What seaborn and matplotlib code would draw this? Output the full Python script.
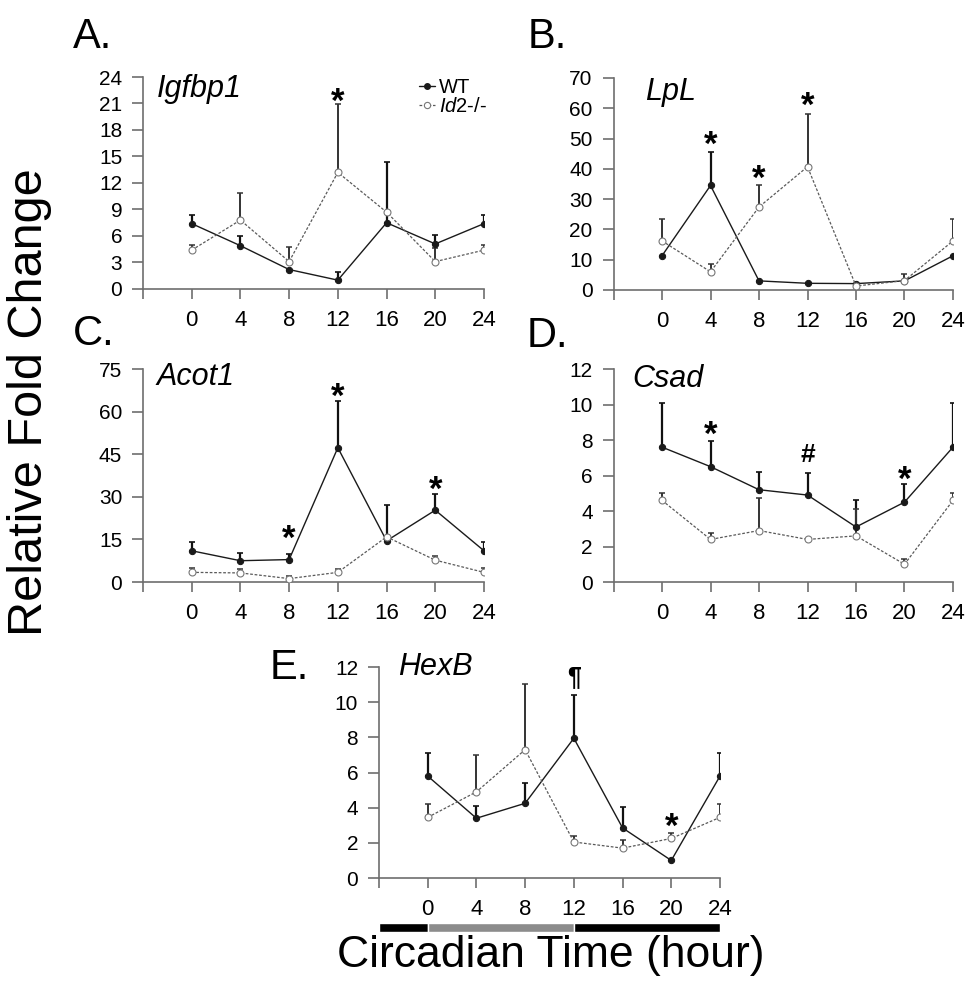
import numpy as np
import matplotlib
matplotlib.use("Agg")
import matplotlib.pyplot as plt
import seaborn as sns
from matplotlib.lines import Line2D
from matplotlib.textpath import TextPath
from matplotlib.font_manager import FontProperties

sns.set_style("ticks")
plt.rcParams['font.family'] = ['Liberation Sans', 'DejaVu Sans']
plt.rcParams['mathtext.fontset'] = 'custom'
plt.rcParams['mathtext.rm'] = 'Liberation Sans'
plt.rcParams['mathtext.it'] = 'Liberation Sans:italic'
plt.rcParams['text.color'] = 'black'
plt.rcParams['xtick.labelcolor'] = 'black'
plt.rcParams['ytick.labelcolor'] = 'black'

nan = np.nan

# circadian time points (hours)
times = [0, 4, 8, 12, 16, 20, 24]

# Igfbp1
igfbp1_wt = [7.4, 4.9, 2.2, 1.0, 7.5, 5.1, 7.4]
igfbp1_wt_se = [1.0, 1.1, nan, 0.9, 6.9, 1.0, 1.0]
igfbp1_ko = [4.4, 7.8, 3.1, 13.2, 8.7, 3.1, 4.4]
igfbp1_ko_se = [0.6, 3.1, 1.6, 7.7, nan, 1.5, 0.6]

# LpL
lpl_wt = [11.3, 34.5, 3.0, 2.2, 2.1, 3.0, 11.3]
lpl_wt_se = [nan, 11.1, nan, nan, nan, nan, nan]
lpl_ko = [16.2, 6.0, 27.4, 40.7, 1.3, 3.1, 16.2]
lpl_ko_se = [7.2, 2.6, 7.2, 17.3, nan, 2.1, 7.2]

# Acot1
acot1_wt = [11.0, 7.5, 7.9, 47.3, 14.5, 25.3, 11.0]
acot1_wt_se = [3.1, 2.7, 1.8, 16.5, 12.6, 5.6, 3.1]
acot1_ko = [3.4, 3.2, 1.2, 3.4, 15.9, 7.7, 3.4]
acot1_ko_se = [1.7, 1.4, 0.8, 1.2, nan, 1.4, 1.7]

# Csad
csad_wt = [7.6, 6.5, 5.2, 4.9, 3.1, 4.5, 7.6]
csad_wt_se = [2.5, 1.45, 1.0, 1.25, 1.5, 1.05, 2.5]
csad_ko = [4.6, 2.4, 2.9, 2.4, 2.6, 1.0, 4.6]
csad_ko_se = [0.4, 0.35, 1.85, nan, 1.5, 0.3, 0.4]

# HexB
hexb_wt = [5.8, 3.4, 4.25, 7.95, 2.85, 1.0, 5.8]
hexb_wt_se = [1.3, 0.7, 1.15, 2.45, 1.2, nan, 1.3]
hexb_ko = [3.45, 4.9, 7.3, 2.05, 1.7, 2.25, 3.45]
hexb_ko_se = [0.75, 2.1, 3.75, 0.35, 0.45, 0.3, 0.75]

# significance marks: (time, symbol, level of the mark's lower edge)
igfbp1_sig = [(12, '*', 20.8)]
lpl_sig = [(4, '*', 46.7), (8, '*', 35.7), (12, '*', 59.9)]
acot1_sig = [(8, '*', 14.1), (12, '*', 64.2), (20, '*', 31.2)]
csad_sig = [(4, '*', 8.1), (12, '#', 6.5), (20, '*', 5.56)]
hexb_sig = [(12, '¶', 10.59), (20, '*', 2.74)]

# light/dark phases under the bottom panel (start, width)
dark1 = (-4, 4)
light = (0, 12)
dark2 = (12, 12)

panels = [
    dict(letter='A.', gene='Igfbp1', wt=igfbp1_wt, wt_se=igfbp1_wt_se, ko=igfbp1_ko, ko_se=igfbp1_ko_se,
         sig=igfbp1_sig, ymax=24, ystep=3, rect=[0.1477, 0.7084, 0.3523, 0.2139],
         gene_pos=(0.041, 0.905), letter_pos=(73, 48)),
    dict(letter='B.', gene='LpL', wt=lpl_wt, wt_se=lpl_wt_se, ko=lpl_ko, ko_se=lpl_ko_se,
         sig=lpl_sig, ymax=70, ystep=10, rect=[0.6338, 0.7074, 0.3507, 0.2139],
         gene_pos=(0.093, 0.896), letter_pos=(528, 48)),
    dict(letter='C.', gene='Acot1', wt=acot1_wt, wt_se=acot1_wt_se, ko=acot1_ko, ko_se=acot1_ko_se,
         sig=acot1_sig, ymax=75, ystep=15, rect=[0.1477, 0.4127, 0.3523, 0.2149],
         gene_pos=(0.041, 0.925), letter_pos=(73, 345)),
    dict(letter='D.', gene='Csad', wt=csad_wt, wt_se=csad_wt_se, ko=csad_ko, ko_se=csad_ko_se,
         sig=csad_sig, ymax=12, ystep=2, rect=[0.6338, 0.4127, 0.3507, 0.2149],
         gene_pos=(0.054, 0.915), letter_pos=(527, 347)),
    dict(letter='E.', gene='HexB', wt=hexb_wt, wt_se=hexb_wt_se, ko=hexb_ko, ko_se=hexb_ko_se,
         sig=hexb_sig, ymax=12, ystep=2, rect=[0.3915, 0.1140, 0.3523, 0.2129],
         gene_pos=(0.056, 0.962), letter_pos=(270, 679)),
]

W, H = 968, 991
fig = plt.figure(figsize=(W / 100, H / 100), dpi=100)

spine_col = '#6e6e6e'
wt_col = '#1a1a1a'
ko_col = '#5a5a5a'
sym_size = {'*': 25, '#': 19, '¶': 18}

for p in panels:
    ax = fig.add_axes(p['rect'])
    zeros = np.zeros(len(times))

    # error bars (upper only)
    ax.errorbar(times, p['wt'], yerr=[zeros, p['wt_se']], fmt='none', ecolor='#111111',
                elinewidth=1.6, capsize=2, capthick=1.2, zorder=2)
    ax.errorbar(times, p['ko'], yerr=[zeros, p['ko_se']], fmt='none', ecolor='#333333',
                elinewidth=1.4, capsize=2, capthick=1.1, zorder=2)

    sns.lineplot(x=times, y=p['wt'], ax=ax, color=wt_col, lw=1.0, marker='o', ms=4.5,
                 mfc=wt_col, mec=wt_col, errorbar=None, zorder=3)
    sns.lineplot(x=times, y=p['ko'], ax=ax, color=ko_col, lw=0.9, linestyle=(0, (2.2, 1.4)),
                 marker='o', ms=5, mfc='white', mec='#777777', mew=0.8, errorbar=None, zorder=4)

    ax.set_xlim(-4, 24)
    ax.set_ylim(0, p['ymax'])
    ax.set_xticks(range(-4, 25, 4))
    ax.set_xticklabels([''] + [str(t) for t in times])
    ax.set_yticks(np.arange(0, p['ymax'] + 0.01, p['ystep']))
    ax.set_xlabel('')
    ax.set_ylabel('')
    sns.despine(ax=ax)
    for s in ['left', 'bottom']:
        ax.spines[s].set_color(spine_col)
        ax.spines[s].set_linewidth(1.2)
    ax.tick_params(axis='x', labelsize=16, length=7, width=1.2, color=spine_col, pad=8)
    ax.tick_params(axis='y', labelsize=15, length=8, width=1.2, color=spine_col, pad=7)

    ax.text(p['gene_pos'][0], p['gene_pos'][1], p['gene'], transform=ax.transAxes,
            fontsize=22, style='italic', va='baseline', ha='left')

    fig.text(p['letter_pos'][0] / W, 1 - p['letter_pos'][1] / H, p['letter'],
             fontsize=30, va='baseline', ha='left')

    for t, sym, ybot in p['sig']:
        fs = sym_size[sym]
        fp = FontProperties(family='Liberation Sans', weight='bold', size=fs)
        y0 = TextPath((0, 0), sym, prop=fp).get_extents().y0
        ax.annotate(sym, (t, ybot), xytext=(0, -y0 + 3), textcoords='offset points',
                    ha='center', va='baseline', fontsize=fs, fontweight='bold',
                    annotation_clip=False)

    if p['letter'] == 'A.':
        handles = [
            Line2D([], [], color=wt_col, lw=1.0, marker='o', ms=4, mfc=wt_col, mec=wt_col),
            Line2D([], [], color=ko_col, lw=0.9, linestyle=(0, (2.2, 1.4)), marker='o', ms=4.5,
                   mfc='white', mec='#777777', mew=0.8),
        ]
        ax.legend(handles, ['WT', r'$\mathit{Id2}$-/-'], loc='upper left',
                  bbox_to_anchor=(0.81, 0.995), frameon=False, fontsize=14.5,
                  handlelength=0.8, handletextpad=0.2, labelspacing=0.0,
                  borderpad=0, borderaxespad=0)

    if p['letter'] == 'E.':
        ax.broken_barh([dark1, light, dark2], (-0.256, 0.043),
                       facecolors=['black', '#8c8c8c', 'black'],
                       transform=ax.get_xaxis_transform(), clip_on=False)

fig.text(30 / W, 1 - 402 / H, 'Relative Fold Change', rotation=90,
         fontsize=35, ha='center', va='center')
fig.text(551 / W, 1 - 967 / H, 'Circadian Time (hour)',
         fontsize=32, ha='center', va='baseline')

fig.savefig('out.png', dpi=100)
